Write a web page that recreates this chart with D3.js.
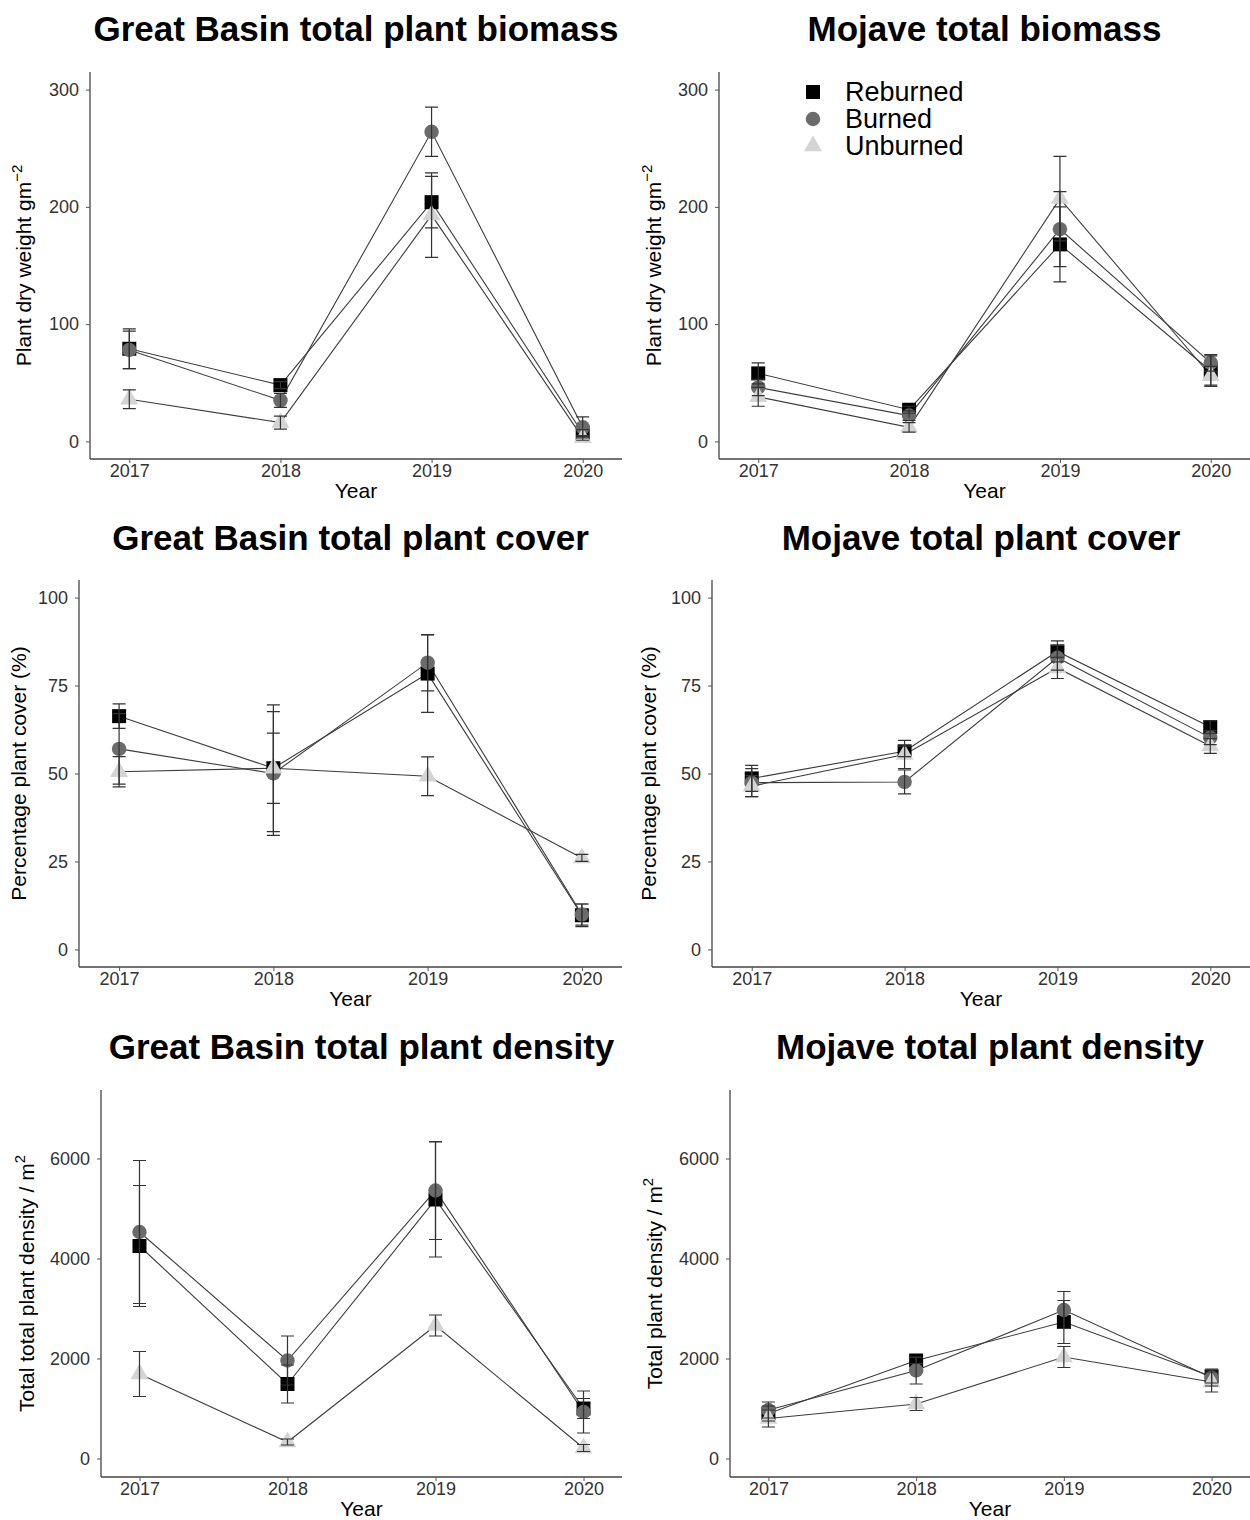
<!DOCTYPE html>
<html>
<head>
<meta charset="utf-8">
<script src="https://cdn.jsdelivr.net/npm/d3@7"></script>
<style>
  body { margin: 0; background: #fff; }
  text { font-family: "Liberation Sans", Arial, sans-serif; }
</style>
</head>
<body>
<svg id="chart" width="1250" height="1520"></svg>
<script>
const years = [2017, 2018, 2019, 2020];
const treatments = ["Reburned", "Burned", "Unburned"];

// Great Basin biomass, g/m2 (mean, se)
const gbBiomassReburned = [79, 48, 204, 7];
const gbBiomassReburnedSe = [17, 3, 22, 3];
const gbBiomassBurned = [78, 35, 264, 12];
const gbBiomassBurnedSe = [16, 6, 21, 9];
const gbBiomassUnburned = [36, 16, 193, 3];
const gbBiomassUnburnedSe = [8, 5.5, 36, 2];

// Mojave biomass
const mjBiomassReburned = [58, 27, 168, 60];
const mjBiomassReburnedSe = [9, 3, 32, 13];
const mjBiomassBurned = [46, 22, 181, 67];
const mjBiomassBurnedSe = [7, 4, 32, 7];
const mjBiomassUnburned = [38, 12, 207, 56];
const mjBiomassUnburnedSe = [8, 4, 36, 8];

// Great Basin cover, %
const gbCoverReburned = [66.3, 51.5, 78.4, 9.7];
const gbCoverReburnedSe = [3.5, 18, 11, 3.2];
const gbCoverBurned = [57, 50, 81.5, 9.9];
const gbCoverBurnedSe = [10, 17.6, 8, 3];
const gbCoverUnburned = [50.5, 51.5, 49.2, 26];
const gbCoverUnburnedSe = [4.3, 10, 5.5, 1];

// Mojave cover
const mjCoverReburned = [48.6, 56.3, 84.7, 63.2];
const mjCoverReburnedSe = [3.7, 1.5, 3, 1.8];
const mjCoverBurned = [47.4, 47.6, 82.9, 60.2];
const mjCoverBurnedSe = [4, 3.4, 3.5, 2];
const mjCoverUnburned = [46.4, 55.4, 80, 57.8];
const mjCoverUnburnedSe = [3, 4, 3, 2.1];

// Great Basin density, plants/m2
const gbDensityReburned = [4250, 1490, 5180, 1000];
const gbDensityReburnedSe = [1210, 380, 1150, 200];
const gbDensityBurned = [4530, 1960, 5360, 930];
const gbDensityBurnedSe = [1430, 490, 980, 420];
const gbDensityUnburned = [1690, 330, 2660, 210];
const gbDensityUnburnedSe = [450, 60, 210, 70];

// Mojave density
const mjDensityReburned = [900, 1960, 2730, 1640];
const mjDensityReburnedSe = [150, 60, 430, 130];
const mjDensityBurned = [970, 1760, 2970, 1620];
const mjDensityBurnedSe = [160, 270, 370, 170];
const mjDensityUnburned = [800, 1090, 2030, 1530];
const mjDensityUnburnedSe = [170, 130, 210, 200];

const biomassTicks = [0, 100, 200, 300];
const coverTicks = [0, 25, 50, 75, 100];
const densityTicks = [0, 2000, 4000, 6000];

const fills = { Reburned: "#000000", Burned: "#6b6b6b", Unburned: "#d4d4d4" };
const shapes = { Reburned: d3.symbolSquare, Burned: d3.symbolCircle, Unburned: d3.symbolTriangle };
const sizes = { Reburned: 196, Burned: 165, Unburned: 140 };

const panels = [
  { title: "Great Basin total plant biomass", ylab: "Plant dry weight  gm", sup: "\u22122",
    ticks: biomassTicks, domain: [-15, 315], left: 90, right: 622, top: 72, bottom: 459, labX: 31, row: 0,
    means: [gbBiomassReburned, gbBiomassBurned, gbBiomassUnburned],
    errs: [gbBiomassReburnedSe, gbBiomassBurnedSe, gbBiomassUnburnedSe] },
  { title: "Mojave total biomass", ylab: "Plant dry weight  gm", sup: "\u22122",
    ticks: biomassTicks, domain: [-15, 315], left: 719, right: 1250, top: 72, bottom: 459, labX: 661, row: 0,
    means: [mjBiomassReburned, mjBiomassBurned, mjBiomassUnburned],
    errs: [mjBiomassReburnedSe, mjBiomassBurnedSe, mjBiomassUnburnedSe], legend: true },
  { title: "Great Basin total plant cover", ylab: "Percentage plant cover (%)", sup: "",
    ticks: coverTicks, domain: [-5, 105], left: 79, right: 622, top: 580, bottom: 967, labX: 26, row: 1,
    means: [gbCoverReburned, gbCoverBurned, gbCoverUnburned],
    errs: [gbCoverReburnedSe, gbCoverBurnedSe, gbCoverUnburnedSe] },
  { title: "Mojave total plant cover", ylab: "Percentage plant cover (%)", sup: "",
    ticks: coverTicks, domain: [-5, 105], left: 712, right: 1250, top: 580, bottom: 967, labX: 656, row: 1,
    means: [mjCoverReburned, mjCoverBurned, mjCoverUnburned],
    errs: [mjCoverReburnedSe, mjCoverBurnedSe, mjCoverUnburnedSe] },
  { title: "Great Basin total plant density", ylab: "Total total plant density / m", sup: "2",
    ticks: densityTicks, domain: [-370, 7370], left: 101, right: 622, top: 1090, bottom: 1477, labX: 34, row: 2,
    means: [gbDensityReburned, gbDensityBurned, gbDensityUnburned],
    errs: [gbDensityReburnedSe, gbDensityBurnedSe, gbDensityUnburnedSe] },
  { title: "Mojave total plant density", ylab: "Total plant density / m", sup: "2",
    ticks: densityTicks, domain: [-370, 7370], left: 730, right: 1250, top: 1090, bottom: 1477, labX: 662, row: 2,
    means: [mjDensityReburned, mjDensityBurned, mjDensityUnburned],
    errs: [mjDensityReburnedSe, mjDensityBurnedSe, mjDensityUnburnedSe] }
];

const titleY = [41, 550, 1059];
const svg = d3.select("#chart");

panels.forEach(function(p) {
  const x = d3.scaleLinear().domain([2016.74, 2020.26]).range([p.left, p.right]);
  const y = d3.scaleLinear().domain(p.domain).range([p.bottom, p.top]);
  const g = svg.append("g");

  // title
  g.append("text")
    .attr("x", (p.left + p.right) / 2)
    .attr("y", titleY[p.row])
    .attr("text-anchor", "middle")
    .attr("font-size", 35)
    .attr("font-weight", "bold")
    .attr("fill", "#000")
    .text(p.title);

  // axes
  const xAxis = g.append("g")
    .attr("transform", "translate(0," + p.bottom + ")")
    .call(d3.axisBottom(x).tickValues(years).tickFormat(d3.format("d")).tickSize(4).tickSizeOuter(0));
  const yAxis = g.append("g")
    .attr("transform", "translate(" + p.left + ",0)")
    .call(d3.axisLeft(y).tickValues(p.ticks).tickFormat(d3.format("d")).tickSize(4).tickSizeOuter(0));
  [xAxis, yAxis].forEach(function(a) {
    a.select(".domain").attr("stroke", "#444").attr("stroke-width", 1.3);
    a.selectAll(".tick line").attr("stroke", "#555");
    a.selectAll(".tick text")
      .attr("font-size", 18)
      .attr("fill", "#333")
      .attr("font-family", "Liberation Sans, Arial, sans-serif");
  });
  xAxis.selectAll(".tick text").attr("dy", null).attr("y", 18);
  yAxis.selectAll(".tick text").attr("x", -11);
  // domain lines span the whole plot frame
  xAxis.select(".domain").attr("d", "M" + p.left + ",0H" + p.right);
  yAxis.select(".domain").attr("d", "M0," + p.top + "V" + p.bottom);

  // axis titles
  g.append("text")
    .attr("x", (p.left + p.right) / 2)
    .attr("y", p.bottom + 39)
    .attr("text-anchor", "middle")
    .attr("font-size", 21)
    .attr("fill", "#000")
    .text("Year");

  const yl = g.append("text")
    .attr("transform", "translate(" + p.labX + "," + ((p.top + p.bottom) / 2) + ") rotate(-90)")
    .attr("text-anchor", "middle")
    .attr("font-size", 21)
    .attr("fill", "#000");
  yl.append("tspan").text(p.ylab);
  if (p.sup) {
    yl.append("tspan").attr("dy", -9).attr("font-size", 15).text(p.sup);
  }

  const line = d3.line()
    .x(function(d, i) { return x(years[i]); })
    .y(function(d) { return y(d); });

  // connecting lines
  p.means.forEach(function(m) {
    g.append("path")
      .attr("d", line(m))
      .attr("fill", "none")
      .attr("stroke", "#3c3c3c")
      .attr("stroke-width", 1.1);
  });

  // points
  treatments.forEach(function(t, k) {
    g.selectAll(null)
      .data(p.means[k])
      .enter()
      .append("path")
      .attr("d", d3.symbol().type(shapes[t]).size(sizes[t]))
      .attr("transform", function(d, i) { return "translate(" + x(years[i]) + "," + y(d) + ")"; })
      .attr("fill", fills[t]);
  });

  // error bars
  treatments.forEach(function(t, k) {
    const m = p.means[k], e = p.errs[k];
    years.forEach(function(yr, i) {
      const cx = x(yr), hi = y(m[i] + e[i]), lo = y(m[i] - e[i]);
      g.append("path")
        .attr("d", "M" + (cx - 6.5) + "," + hi + "H" + (cx + 6.5) +
                   "M" + cx + "," + hi + "V" + lo +
                   "M" + (cx - 6.5) + "," + lo + "H" + (cx + 6.5))
        .attr("fill", "none")
        .attr("stroke", "#333")
        .attr("stroke-width", 1.2);
    });
  });

  if (p.legend) {
    const lg = g.append("g");
    treatments.forEach(function(t, k) {
      const cy = 92 + k * 27;
      lg.append("path")
        .attr("d", d3.symbol().type(shapes[t]).size(sizes[t]))
        .attr("transform", "translate(813," + cy + ")")
        .attr("fill", fills[t]);
      lg.append("text")
        .attr("x", 845)
        .attr("y", cy + 9)
        .attr("font-size", 27)
        .attr("fill", "#000")
        .text(t);
    });
  }
});
</script>
</body>
</html>
